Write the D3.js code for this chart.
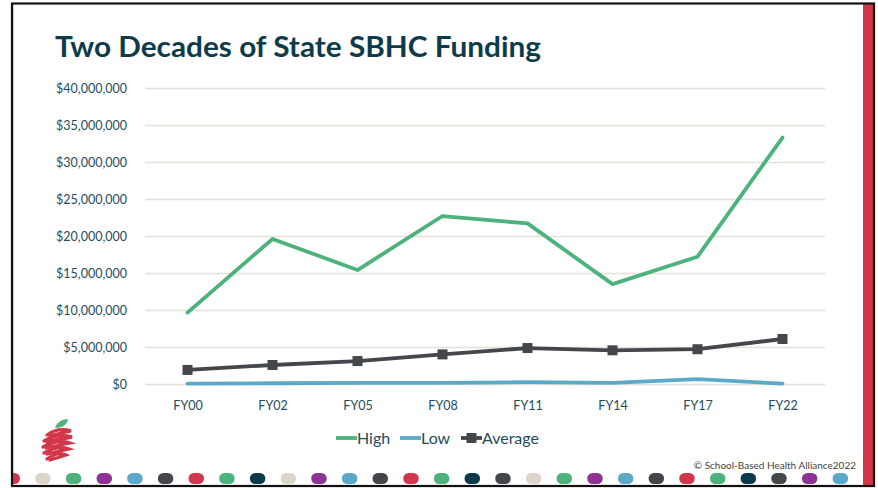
<!DOCTYPE html>
<html>
<head>
<meta charset="utf-8">
<script src="https://cdn.jsdelivr.net/npm/d3@7"></script>
<style>
  body { margin: 0; background: #fff; }
  #canva svg { display: block; }
</style>
</head>
<body>
<div id="canva"></div>
<script>
const categories = ["FY00", "FY02", "FY05", "FY08", "FY11", "FY14", "FY17", "FY22"];
const highValues = [9650000, 19600000, 15400000, 22700000, 21700000, 13500000, 17200000, 33300000];
const lowValues = [50000, 100000, 150000, 150000, 250000, 150000, 650000, 50000];
const averageValues = [1900000, 2570000, 3100000, 4000000, 4860000, 4550000, 4700000, 6080000];
const yTicks = [0, 5000000, 10000000, 15000000, 20000000, 25000000, 30000000, 35000000, 40000000];
const dotColors = ["#d3364a", "#ddd6c8", "#4bb37b", "#8e3394", "#5ba9c9", "#43464b", "#d3364a", "#4bb37b",
  "#0b3a4c", "#ddd6c8", "#8e3394", "#5ba9c9", "#43464b", "#d3364a", "#4bb37b", "#0b3a4c", "#43464b",
  "#ddd6c8", "#4bb37b", "#8e3394", "#5ba9c9", "#43464b", "#d3364a", "#4bb37b", "#0b3a4c", "#43464b",
  "#8e3394", "#5ba9c9"];

const series = [
  { name: "High", values: highValues, color: "#4bb37b", marker: false },
  { name: "Low", values: lowValues, color: "#5ba9c9", marker: false },
  { name: "Average", values: averageValues, color: "#43464b", marker: true }
];

function crearVisualizacion() {
  const width = 878;
  const height = 488;
  const textColor = "#1f4c5c";

  const svg = d3.select("#canva").append("svg")
    .attr("width", width)
    .attr("height", height);

  // slide frame + red side bar
  svg.append("rect")
    .attr("x", 863).attr("y", 3).attr("width", 11).attr("height", 484)
    .style("fill", "#d3364a");
  svg.append("rect")
    .attr("x", 12).attr("y", 3.5).attr("width", 862).attr("height", 482.5)
    .style("fill", "none").style("stroke", "#111").style("stroke-width", 2.2);

  svg.append("text")
    .attr("x", 55).attr("y", 57)
    .attr("textLength", 486).attr("lengthAdjust", "spacingAndGlyphs")
    .style("font-family", "Lato, 'Open Sans', sans-serif")
    .style("font-weight", "bold").style("font-size", "29px")
    .style("fill", "#0d3b4b")
    .text("Two Decades of State SBHC Funding");

  const margin = { top: 88, left: 145, right: 53, bottom: 104 };
  const iwidth = width - margin.left - margin.right;
  const iheight = height - margin.top - margin.bottom;

  const g = svg.append("g").attr("transform", `translate(${margin.left},${margin.top})`);

  const y = d3.scaleLinear().domain([0, 40000000]).range([iheight, 0]);
  const x = d3.scalePoint().domain(categories).range([0, iwidth]).padding(0.5);

  const fmt = v => "$" + d3.format(",")(v);

  const yAxis = g.append("g")
    .call(d3.axisLeft(y).tickValues(yTicks).tickFormat(fmt).tickSize(-iwidth).tickPadding(18));
  yAxis.select(".domain").remove();
  yAxis.selectAll("line").style("stroke", "#e6e0d6").style("stroke-width", 1.3);
  yAxis.selectAll("text")
    .style("font-family", "Lato, sans-serif").style("font-size", "12.5px").style("fill", textColor);

  const xAxis = g.append("g")
    .attr("transform", `translate(0,${iheight})`)
    .call(d3.axisBottom(x).tickSize(0).tickPadding(17));
  xAxis.select(".domain").remove();
  xAxis.selectAll("text")
    .style("font-family", "Lato, sans-serif").style("font-size", "12.5px").style("fill", textColor);

  const line = d3.line()
    .x((d, i) => x(categories[i]))
    .y(d => y(d));

  series.forEach(s => {
    g.append("path")
      .datum(s.values)
      .attr("d", line)
      .style("fill", "none")
      .style("stroke", s.color)
      .style("stroke-width", 3.8)
      .style("stroke-linejoin", "round")
      .style("stroke-linecap", "round");
    if (s.marker) {
      g.selectAll(".mk-" + s.name).data(s.values).enter().append("rect")
        .attr("class", "mk-" + s.name)
        .attr("x", (d, i) => x(categories[i]) - 5)
        .attr("y", d => y(d) - 5)
        .attr("width", 10).attr("height", 10)
        .style("fill", s.color);
    }
  });

  // legend
  const legendX = [336, 400, 461];
  const legend = svg.append("g").attr("transform", "translate(0,438)");
  series.forEach((s, i) => {
    const lg = legend.append("g").attr("transform", `translate(${legendX[i]},0)`);
    lg.append("line").attr("x1", 0).attr("x2", 21).attr("y1", 0).attr("y2", 0)
      .style("stroke", s.color).style("stroke-width", 3.8);
    if (s.marker) {
      lg.append("rect").attr("x", 5.5).attr("y", -5).attr("width", 10).attr("height", 10)
        .style("fill", s.color);
    }
    lg.append("text").attr("x", 21).attr("y", 5.5)
      .style("font-family", "Lato, sans-serif").style("font-size", "16px").style("fill", textColor)
      .text(s.name);
  });

  // logo
  const logo = svg.append("g").attr("transform", "translate(58,443)");
  logo.append("path")
    .attr("d", "M-3,-15 C-2,-20 4,-24 10,-24 C9,-18 4,-15 -3,-15 Z")
    .style("fill", "#4bb37b");
  const stripes = [[-11, 13, -11], [-14, 14, -5], [-15, 12, 1], [-14, 11, 7], [-11, 8, 13]];
  stripes.forEach(s => {
    logo.append("path")
      .attr("d", `M${s[0]},${s[2] + 3} Q0,${s[2] - 5} ${s[1]},${s[2] - 1} Q2,${s[2] + 1} ${s[0] + 3},${s[2] + 4}`)
      .style("fill", "none").style("stroke", "#d3364a").style("stroke-width", 3.3)
      .style("stroke-linecap", "round");
  });

  svg.append("text")
    .attr("x", 856).attr("y", 469).attr("text-anchor", "end")
    .style("font-family", "Lato, sans-serif").style("font-size", "10px").style("fill", "#444")
    .text("\u00a9 School-Based Health Alliance2022");

  // dot strip
  const dots = svg.append("g");
  dots.selectAll("rect").data(dotColors).enter().append("rect")
    .attr("x", (d, i) => 4.5 + i * 30.67)
    .attr("y", 473)
    .attr("width", 15.5).attr("height", 11).attr("rx", 5.5)
    .style("fill", d => d);
  svg.append("rect").attr("x", 0).attr("y", 0).attr("width", 11).attr("height", height).style("fill", "#fff");
  svg.append("line").attr("x1", 12).attr("x2", 12).attr("y1", 3.5).attr("y2", 486)
    .style("stroke", "#111").style("stroke-width", 2.2);
}

crearVisualizacion();
</script>
</body>
</html>
